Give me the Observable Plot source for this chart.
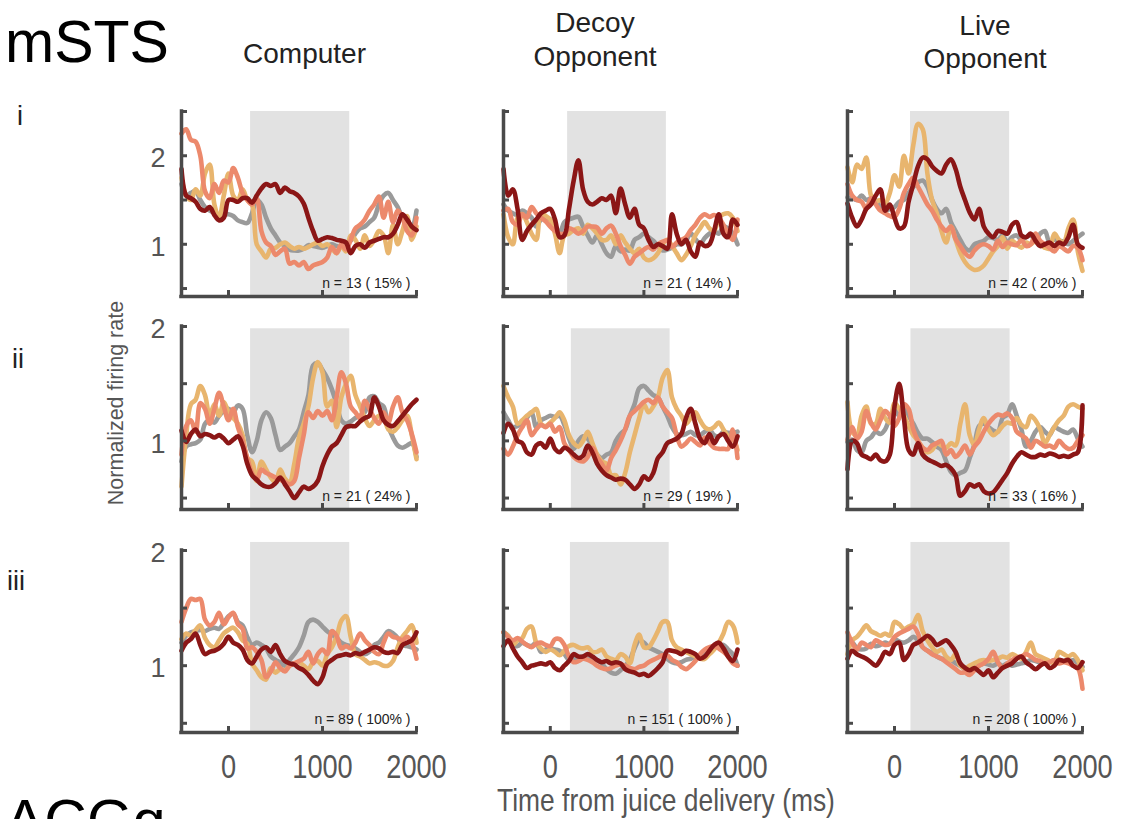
<!DOCTYPE html>
<html>
<head>
<meta charset="utf-8">
<script src="https://cdn.jsdelivr.net/npm/d3@7"></script>
<script src="https://cdn.jsdelivr.net/npm/@observablehq/plot@0.6"></script>
<style>
  body { margin: 0; background: #fff; }
  #fig { position: relative; width: 1123px; height: 819px; overflow: hidden; background: #fff; }
  #fig svg { position: absolute; }
</style>
</head>
<body>
<div id="fig"></div>
<script>
// Time bins (ms from juice delivery)
const times = [-500,-450,-400,-350,-300,-250,-200,-150,-100,-50,
  0,50,100,150,200,250,300,350,400,450,
  500,550,600,650,700,750,800,850,900,950,
  1000,1050,1100,1150,1200,1250,1300,1350,1400,1450,
  1500,1550,1600,1650,1700,1750,1800,1850,1900,1950,
  2000];

// Row i — Computer
const compIGray = [1.68,1.55,1.58,1.60,1.50,1.42,1.38,1.35,1.30,1.33, 1.34,1.32,1.27,1.25,1.24,1.35,1.50,1.45,1.30,1.18, 1.10,1.02,0.98,0.94,0.93,0.93,0.95,0.99,0.98,0.97, 0.96,0.98,1.00,0.98,0.97,1.00,1.04,1.12,1.18,1.20, 1.25,1.30,1.45,1.55,1.58,1.50,1.42,1.30,1.25,1.18, 1.38];
const compITan = [1.75,1.55,1.50,1.62,1.55,1.80,1.90,1.45,1.30,1.55, 1.80,1.55,1.50,1.62,1.50,1.45,1.00,0.92,0.85,0.95, 0.96,1.00,1.02,0.98,0.95,0.97,0.95,0.97,1.00,1.02, 0.98,1.00,0.95,0.90,0.98,0.92,1.10,1.05,0.95,1.10, 0.98,1.05,1.15,1.10,0.90,1.22,1.00,1.15,1.32,1.05, 1.20];
const compISalmon = [2.25,2.30,2.18,2.16,2.00,1.60,1.52,1.68,1.58,1.72, 1.70,1.86,1.75,1.58,1.50,1.45,1.52,1.15,1.02,0.98, 0.88,0.92,0.95,0.78,0.80,0.76,0.80,0.72,0.76,0.78, 0.80,0.85,0.97,0.90,1.00,0.94,1.05,1.18,1.22,1.28, 1.38,1.45,1.54,1.30,1.48,1.25,1.38,1.30,1.15,1.10, 1.30];
const compIRed = [1.85,1.55,1.52,1.48,1.40,1.38,1.42,1.33,1.27,1.30, 1.50,1.50,1.48,1.52,1.52,1.47,1.55,1.63,1.68,1.66, 1.68,1.58,1.64,1.60,1.58,1.54,1.46,1.30,1.15,1.04, 1.06,1.08,1.07,1.05,1.04,1.02,0.90,0.98,1.00,0.96, 1.02,1.04,1.06,1.08,1.08,1.12,1.22,1.34,1.28,1.20, 1.16];

// Row i — Decoy Opponent
const decIGray = [1.45,1.38,1.35,1.33,1.38,1.35,1.30,1.20,1.28,1.30, 1.28,1.22,1.12,1.25,1.28,1.30,1.31,1.20,1.10,1.02, 1.10,1.00,0.90,0.86,0.98,0.92,0.94,0.93,1.05,1.08, 1.12,1.08,1.04,0.98,0.93,0.94,0.96,1.00,1.00,1.04, 1.12,1.06,1.00,1.07,1.12,1.15,1.12,1.20,1.18,1.12, 1.00];
const decITan = [1.34,1.08,1.00,1.30,1.34,1.25,1.12,1.05,1.35,1.32, 1.28,1.12,0.90,1.10,1.12,1.16,1.18,1.12,1.22,1.18, 1.12,1.05,1.05,1.10,1.00,1.10,1.02,0.95,0.90,0.95, 0.85,0.82,0.84,0.90,1.00,1.05,0.98,0.90,0.82,0.88, 0.98,1.10,1.18,1.25,1.18,1.15,1.30,1.34,1.35,1.30, 1.15];
const decISalmon = [1.38,1.40,1.25,1.22,1.34,1.30,1.42,1.35,1.30,1.26, 1.20,1.15,1.12,1.12,1.18,1.16,1.12,1.15,1.20,1.20, 1.19,1.12,1.18,1.21,1.12,0.98,0.88,0.78,0.86,0.90, 0.94,0.97,0.94,1.00,1.03,1.04,0.97,1.02,1.05,1.08, 1.16,1.22,1.30,1.34,1.31,1.33,1.30,1.22,1.12,1.05, 1.28];
const decIRed = [1.85,1.55,1.62,1.40,1.05,1.15,1.22,1.28,1.35,1.38, 1.40,1.28,1.08,1.10,1.40,1.72,1.95,1.62,1.48,1.45, 1.48,1.52,1.50,1.55,1.35,1.63,1.45,1.30,1.40,1.22, 1.18,1.05,0.97,1.00,0.98,0.95,1.34,1.12,1.00,1.05, 0.92,0.86,1.02,0.98,1.00,1.15,1.34,1.12,1.08,1.28, 1.22];

// Row i — Live Opponent
const liveIGray = [1.53,1.52,1.50,1.55,1.50,1.52,1.50,1.42,1.38,1.40, 1.42,1.48,1.50,1.58,1.65,1.70,1.72,1.65,1.50,1.40, 1.35,1.40,1.25,1.15,1.05,0.96,0.93,1.00,1.02,1.04, 1.08,1.07,1.05,1.10,1.02,1.08,1.10,1.05,1.08,1.10, 1.05,1.12,1.15,1.02,1.05,1.04,1.03,1.00,1.04,1.08, 1.12];
const liveITan = [1.87,1.70,1.90,1.85,1.98,1.55,1.48,1.50,1.46,1.58, 1.78,1.65,2.00,1.80,2.12,2.36,2.30,1.80,1.50,1.35, 1.15,1.02,1.20,1.05,0.90,0.80,0.74,0.71,0.72,0.76, 0.84,0.92,0.98,1.08,0.95,1.04,1.00,0.96,1.02,1.00, 1.04,1.00,0.96,0.95,1.12,1.05,1.02,1.18,1.28,0.92, 0.70];
const liveISalmon = [1.68,1.55,1.50,1.48,1.40,1.52,1.45,1.38,1.35,1.32, 1.31,1.40,1.58,1.68,1.75,1.65,1.55,1.45,1.38,1.28, 1.20,1.15,1.20,1.06,0.98,0.90,0.86,0.93,0.98,1.00, 0.98,0.94,1.04,0.97,1.02,1.00,0.99,1.05,0.98,1.00, 1.12,1.04,1.00,0.96,0.92,0.98,0.95,0.92,0.98,0.96, 0.82];
const liveIRed = [1.46,1.30,1.20,1.28,1.40,1.45,1.55,1.62,1.38,1.45, 1.30,1.18,1.20,1.48,1.68,1.88,1.98,1.96,1.88,1.83, 1.80,1.90,1.96,1.85,1.65,1.50,1.36,1.28,1.40,1.20, 1.12,1.08,1.15,1.14,1.12,1.22,1.25,1.10,1.08,1.12, 1.04,0.98,1.00,1.02,0.98,1.02,1.00,1.08,1.22,1.00, 0.96];

// Row ii — Computer
const compIIGray = [0.82,0.95,0.97,0.98,1.01,1.15,1.18,1.16,1.22,1.26, 1.28,1.25,1.31,1.28,1.05,0.90,1.00,1.18,1.25,1.20, 1.05,0.92,0.95,0.98,1.04,1.10,1.25,1.40,1.66,1.68, 1.62,1.55,1.45,1.32,1.18,1.15,1.17,1.20,1.22,1.25, 1.38,1.39,1.33,1.30,1.13,1.03,0.96,0.94,0.96,0.98, 0.86];
const compIITan = [0.60,1.05,1.32,1.36,1.48,1.40,1.22,1.32,1.22,1.34, 1.25,1.20,1.15,1.05,0.85,0.82,0.65,0.82,0.75,0.68, 0.64,0.75,0.67,0.64,0.80,1.03,1.15,1.30,1.55,1.69, 1.60,1.30,1.35,1.12,1.38,1.50,1.57,1.40,1.30,1.20, 1.13,1.18,1.22,1.20,1.10,1.08,1.12,1.18,1.22,1.05, 0.84];
const compIISalmon = [0.88,1.13,1.18,1.08,1.33,1.28,1.15,1.28,1.42,1.30, 1.18,1.28,1.12,1.00,0.85,0.72,0.66,0.75,0.72,0.70, 0.68,0.66,0.64,0.62,0.65,0.85,1.05,1.25,1.20,1.26, 1.22,1.26,1.18,1.38,1.60,1.50,1.30,1.25,1.20,1.35, 1.28,1.20,1.15,1.25,1.16,1.30,1.38,1.25,1.18,1.06, 0.90];
const compIIRed = [1.09,0.99,1.06,1.10,1.04,1.06,1.05,1.03,1.05,1.02, 0.98,1.01,1.04,0.96,0.80,0.70,0.66,0.62,0.60,0.60, 0.63,0.68,0.62,0.56,0.50,0.55,0.60,0.58,0.60,0.65, 0.78,0.88,0.95,0.98,1.05,1.12,1.13,1.13,1.17,1.20, 1.22,1.38,1.30,1.18,1.14,1.13,1.17,1.22,1.27,1.32, 1.36];

// Row ii — Decoy Opponent
const decIIGray = [1.25,1.18,1.12,1.13,1.15,1.20,1.25,1.12,1.18,1.20, 1.22,1.21,1.22,1.14,1.02,0.93,1.00,1.04,1.02,0.94, 0.88,0.85,0.88,0.90,1.00,1.06,1.10,1.22,1.32,1.46, 1.48,1.44,1.40,1.38,1.30,1.22,1.12,1.06,1.05,1.06, 1.08,1.05,1.05,1.08,1.10,1.05,1.04,1.08,1.07,1.07, 1.08];
const decIITan = [1.48,1.38,1.30,1.15,1.18,1.22,1.25,1.28,1.15,1.13, 1.16,1.20,1.25,1.18,1.05,0.98,0.95,1.00,1.08,0.98, 0.88,0.82,0.80,0.70,0.70,0.62,0.72,0.90,1.05,1.20, 1.32,1.25,1.30,1.38,1.55,1.62,1.38,1.28,1.22,1.15, 1.20,1.25,1.18,1.12,1.10,1.12,1.16,1.10,1.04,1.02, 0.92];
const decIISalmon = [0.93,0.88,0.95,1.05,1.12,1.18,1.05,1.10,1.14,1.12, 1.15,1.08,1.12,0.98,0.92,0.86,0.83,0.82,0.86,0.94, 0.86,0.80,0.74,0.85,0.92,1.00,1.10,1.22,1.26,1.30, 1.34,1.36,1.33,1.38,1.30,1.25,1.20,1.05,0.95,0.98, 1.02,0.99,0.96,1.03,0.98,0.94,0.93,0.93,0.93,1.10, 0.85];
const decIIRed = [1.07,1.15,1.10,1.00,0.98,0.90,0.88,0.96,0.98,0.94, 1.02,0.93,0.90,0.94,0.92,0.88,0.85,0.87,0.96,0.90, 0.80,0.74,0.70,0.68,0.66,0.67,0.66,0.62,0.58,0.62, 0.69,0.66,0.72,0.85,0.90,0.98,1.00,1.02,1.06,1.20, 1.28,1.15,1.02,0.98,1.06,0.98,1.04,1.06,1.00,0.95, 1.04];

// Row ii — Live Opponent
const liveIIGray = [0.99,1.01,0.92,0.90,1.00,1.03,1.08,1.06,1.10,1.20, 1.27,1.22,1.30,1.22,1.15,1.07,1.02,1.02,0.99,0.95, 0.92,0.82,0.73,0.70,0.72,0.74,0.85,0.97,1.13,1.15, 1.12,1.09,1.08,1.20,1.23,1.32,1.22,1.10,0.95,1.00, 1.08,1.12,1.08,1.05,1.12,1.10,1.08,1.07,1.10,1.02, 0.95];
const liveIITan = [1.34,1.08,1.05,1.22,1.30,1.15,1.15,1.28,1.20,1.16, 1.33,1.28,1.22,1.13,1.05,1.00,0.94,0.90,0.92,0.98, 0.96,0.94,0.98,0.96,1.15,1.32,1.05,0.96,1.10,1.20, 1.10,1.05,1.08,1.13,1.16,1.15,1.20,1.14,1.12,1.22, 1.18,1.10,0.98,1.05,1.12,1.18,1.22,1.30,1.32,1.30, 1.28];
const liveIISalmon = [1.01,1.12,1.02,1.08,1.26,1.16,1.10,1.18,1.26,1.22, 1.13,1.20,1.32,1.28,1.10,1.00,0.94,0.92,0.96,0.98, 1.00,0.88,0.92,0.86,0.90,0.96,0.88,0.95,1.00,1.08, 1.15,1.20,1.23,1.22,1.24,1.20,1.08,1.05,1.02,0.94, 1.00,0.98,0.95,0.96,0.94,1.00,0.96,0.93,0.94,1.00, 1.05];
const liveIIRed = [0.75,1.00,0.98,0.88,0.86,0.84,0.88,0.83,0.82,0.88, 1.30,1.50,1.20,0.92,0.88,0.98,0.88,0.84,0.82,0.80, 0.78,0.79,0.76,0.70,0.52,0.56,0.62,0.60,0.62,0.56, 0.54,0.55,0.60,0.66,0.72,0.80,0.86,0.90,0.88,0.86, 0.86,0.88,0.87,0.89,0.88,0.86,0.87,0.86,0.88,0.90, 1.31];

// Row iii — Computer
const compIIIGray = [1.20,1.26,1.29,1.30,1.31,1.30,1.32,1.33,1.32,1.37, 1.43,1.45,1.38,1.35,1.25,1.18,1.20,1.18,1.15,1.08, 1.05,1.03,1.00,1.05,1.10,1.16,1.26,1.38,1.40,1.38, 1.34,1.30,1.27,1.24,1.20,1.18,1.17,1.15,1.12,1.10, 1.12,1.18,1.20,1.25,1.30,1.28,1.24,1.18,1.17,1.16, 1.14];
const compIIITan = [1.23,1.28,1.26,1.31,1.35,1.24,1.18,1.16,1.22,1.28, 1.31,1.33,1.29,1.22,1.19,1.02,0.96,0.90,0.88,0.98, 0.94,0.97,0.96,1.00,1.02,1.03,1.00,0.97,1.03,1.04, 1.00,1.10,1.16,1.25,1.39,1.43,1.25,1.10,1.08,1.05, 1.02,1.03,1.02,1.00,1.00,1.04,1.16,1.25,1.30,1.35, 1.20];
const compIIISalmon = [1.38,1.50,1.58,1.57,1.58,1.40,1.35,1.38,1.46,1.36, 1.42,1.46,1.36,1.32,1.15,1.16,1.12,1.05,0.90,0.95, 1.03,0.98,0.95,1.00,1.02,1.04,1.06,1.12,1.02,1.10, 1.14,1.10,1.30,1.26,1.15,1.17,1.15,1.20,1.28,1.22, 1.18,1.12,1.10,1.20,1.28,1.25,1.24,1.22,1.25,1.20, 1.06];
const compIIIRed = [1.13,1.20,1.23,1.28,1.18,1.10,1.12,1.13,1.15,1.19, 1.25,1.20,1.18,1.14,1.05,1.02,1.08,1.14,1.16,1.12, 1.18,1.10,1.04,1.02,1.01,0.98,0.96,0.92,0.87,0.84, 0.90,1.02,1.05,1.08,1.09,1.10,1.09,1.11,1.10,1.12, 1.14,1.16,1.15,1.12,1.11,1.12,1.11,1.18,1.20,1.22, 1.29];

// Row iii — Decoy Opponent
const decIIIGray = [1.29,1.26,1.18,1.17,1.20,1.18,1.17,1.20,1.12,1.14, 1.15,1.14,1.13,1.10,1.05,1.06,1.07,1.08,1.06,1.07, 1.05,1.02,0.97,0.94,0.93,0.96,1.00,1.05,1.15,1.22, 1.20,1.16,1.14,1.12,1.10,1.06,1.03,1.02,1.03,1.05, 1.06,1.08,1.08,1.10,1.12,1.15,1.17,1.18,1.14,1.10, 1.00];
const decIIITan = [1.29,1.26,1.18,1.22,1.24,1.32,1.34,1.20,1.15,1.12, 1.14,1.12,1.09,1.13,1.17,1.18,1.16,1.15,1.16,1.12, 1.12,1.14,1.08,1.06,1.05,1.10,1.08,1.02,1.18,1.27, 1.16,1.16,1.22,1.30,1.38,1.38,1.22,1.16,1.14,1.12, 1.10,1.08,1.06,1.06,1.10,1.14,1.20,1.28,1.38,1.35, 1.20];
const decIIISalmon = [1.29,1.25,1.22,1.24,1.21,1.18,1.16,1.19,1.20,1.18, 1.17,1.23,1.23,1.18,1.08,1.03,1.04,1.06,1.05,1.03, 1.00,0.98,0.97,0.98,1.00,1.01,1.00,0.98,0.97,0.99, 1.00,1.03,1.05,1.07,1.09,1.09,1.05,1.03,0.99,0.97, 1.00,1.04,1.10,1.14,1.16,1.17,1.15,1.12,1.08,1.02, 1.00];
const decIIIRed = [1.17,1.22,1.15,1.08,1.03,0.98,1.00,1.01,1.02,1.01, 1.03,0.98,0.96,1.00,1.04,1.10,1.08,1.08,1.10,1.08, 1.05,1.03,1.04,1.02,1.03,1.02,0.97,0.95,0.94,0.92, 0.93,0.91,0.94,0.98,1.03,1.13,1.13,1.12,1.10,1.13, 1.12,1.10,1.06,1.08,1.13,1.18,1.20,1.15,1.08,1.04, 1.14];

// Row iii — Live Opponent
const liveIIIGray = [1.17,1.20,1.15,1.14,1.15,1.19,1.17,1.18,1.20,1.19, 1.23,1.21,1.20,1.22,1.25,1.22,1.16,1.13,1.11,1.08, 1.06,1.06,1.05,1.02,1.00,0.97,0.95,0.98,1.00,1.02, 1.01,1.00,1.02,1.00,1.02,1.00,1.01,1.02,1.03,1.05, 1.04,1.03,1.02,1.03,1.05,1.04,1.04,1.03,1.05,1.02, 0.99];
const liveIIITan = [1.10,1.22,1.25,1.30,1.35,1.30,1.28,1.26,1.28,1.26, 1.38,1.36,1.32,1.34,1.36,1.44,1.30,1.22,1.16,1.12, 1.14,1.08,1.05,1.10,1.00,0.98,1.00,1.02,1.04,1.05, 1.04,1.05,1.06,1.08,1.07,1.10,1.08,1.06,1.12,1.20, 1.10,1.08,1.06,1.04,1.02,1.12,1.10,1.08,1.10,1.05, 0.96];
const liveIIISalmon = [1.29,1.20,1.14,1.20,1.18,1.16,1.22,1.20,1.18,1.19, 1.25,1.28,1.30,1.32,1.34,1.28,1.16,1.13,1.10,1.08, 1.06,1.03,1.00,0.97,0.94,0.94,0.92,0.96,1.00,1.02, 1.06,1.12,1.03,0.98,1.02,1.05,1.07,1.08,1.10,1.08, 1.05,1.04,1.02,1.03,1.05,1.02,1.03,1.02,1.00,0.98, 0.80];
const liveIIIRed = [1.06,1.13,1.10,1.08,1.06,1.03,1.00,1.05,1.12,1.10, 1.18,1.20,1.05,1.10,1.18,1.20,1.23,1.26,1.23,1.18, 1.20,1.22,1.18,1.12,1.02,0.98,0.96,0.98,0.95,0.92, 0.96,0.90,0.94,0.98,1.00,1.02,1.06,1.08,1.03,1.00, 0.97,1.00,1.02,0.98,1.00,1.05,1.04,1.05,1.00,0.98, 1.03];

// Panel annotations
const columnTitles = [["Computer"], ["Decoy", "Opponent"], ["Live", "Opponent"]];
const rowLabels = ["i", "ii", "iii"];
const cellCounts = [[13, 21, 42], [21, 29, 33], [89, 151, 208]];
const cellPercents = [[15, 14, 20], [24, 19, 16], [100, 100, 100]];

// Reward window shading (ms) and its top (normalized rate), per panel / row
const shadeStart = [[235, 185, 170], [235, 225, 175], [235, 215, 175]];
const shadeEnd = [[1290, 1240, 1225], [1290, 1280, 1230], [1290, 1270, 1230]];
const shadeTop = [2.5, 1.98, 2.07];

// Axes
const yDomains = [[0.41, 2.5], [0.40, 2.0], [0.42, 2.0]];
const yTicks = [[0.5, 1, 1.5, 2, 2.5], [0.5, 1, 1.5, 2], [0.5, 1, 1.5, 2]];
const yTickLabels = [1, 2];
const xTicks = [0, 1000, 2000];
const xDomain = [-500, 2000];

const panelSeries = [
  [[compIGray, compITan, compISalmon, compIRed], [decIGray, decITan, decISalmon, decIRed], [liveIGray, liveITan, liveISalmon, liveIRed]],
  [[compIIGray, compIITan, compIISalmon, compIIRed], [decIIGray, decIITan, decIISalmon, decIIRed], [liveIIGray, liveIITan, liveIISalmon, liveIIRed]],
  [[compIIIGray, compIIITan, compIIISalmon, compIIIRed], [decIIIGray, decIIITan, decIIISalmon, decIIIRed], [liveIIIGray, liveIIITan, liveIIISalmon, liveIIIRed]]
];
const seriesColors = ["#9a9a9a", "#e8b56e", "#ec896c", "#8b1616"];

const axisColor = "#4a4a4a";
const labelColor = "#555555";
const shadeColor = "#e2e2e2";
const sans = "'Liberation Sans', Arial, Helvetica, sans-serif";
const condense = 0.8; // horizontal squeeze for the condensed axis lettering

// Frame geometry of the 3x3 grid (pixels)
const colLeft = [181, 503, 847], colRight = [416, 737, 1082];
const rowTop = [111, 326, 550], rowBottom = [296, 509, 732];
const M = {l: 70, r: 40, t: 14, b: 64};

const fig = document.getElementById("fig");
const xTickText = new Set(xTicks.map(String));

// squeeze a text element horizontally about its anchor
function squeeze(t, s) {
  const tr = t.getAttribute("transform");
  if (tr) {
    t.setAttribute("transform", `${tr} scale(${s},1)`);
  } else {
    const x = +t.getAttribute("x") || 0, y = +t.getAttribute("y") || 0;
    t.setAttribute("x", 0);
    t.setAttribute("y", 0);
    t.setAttribute("transform", `translate(${x},${y}) scale(${s},1)`);
  }
}

for (let r = 0; r < 3; r++) {
  for (let c = 0; c < 3; c++) {
    const fw = colRight[c] - colLeft[c];
    const fh = rowBottom[r] - rowTop[r];
    const [y0] = yDomains[r];
    const marks = [
      Plot.rect([{x1: shadeStart[r][c], x2: shadeEnd[r][c], y1: y0, y2: shadeTop[r]}],
        {x1: "x1", x2: "x2", y1: "y1", y2: "y2", fill: shadeColor}),
      ...panelSeries[r][c].map((vals, k) =>
        Plot.line(vals.map((v, i) => [times[i], v]), {
          stroke: seriesColors[k], strokeWidth: 4.6, curve: "catmull-rom",
          strokeLinejoin: "round", strokeLinecap: "round"
        })),
      Plot.ruleX([xDomain[0]], {stroke: axisColor, strokeWidth: 3.5, strokeLinecap: "square"}),
      Plot.ruleY([y0], {stroke: axisColor, strokeWidth: 3.5, strokeLinecap: "square"}),
      Plot.ruleY(yTicks[r], {stroke: axisColor, strokeWidth: 3, insetRight: fw - 6}),
      Plot.ruleX(xTicks, {stroke: axisColor, strokeWidth: 3, insetTop: fh - 6}),
      Plot.text([`n = ${cellCounts[r][c]} ( ${cellPercents[r][c]}% )`], {
        frameAnchor: "bottom-right", textAnchor: "end", lineAnchor: "middle",
        dx: -6, dy: -13, fontSize: 14, fontFamily: sans, fill: "#222"
      })
    ];
    if (c === 0) {
      marks.push(Plot.text(yTickLabels, {
        x: xDomain[0], y: d => d, text: d => String(d), textAnchor: "end",
        dx: -16, dy: 3, fontSize: 27, fontFamily: sans, fill: labelColor
      }));
    }
    if (r === 2) {
      marks.push(Plot.text(xTicks, {
        x: d => d, y: y0, text: d => String(d), dy: 35,
        fontSize: 34, fontFamily: sans, fill: labelColor
      }));
    }
    const svg = Plot.plot({
      width: fw + M.l + M.r,
      height: fh + M.t + M.b,
      marginLeft: M.l, marginRight: M.r, marginTop: M.t, marginBottom: M.b,
      x: {domain: xDomain, axis: null},
      y: {domain: yDomains[r], axis: null},
      style: {background: "transparent", overflow: "visible"},
      marks
    });
    svg.style.left = (colLeft[c] - M.l) + "px";
    svg.style.top = (rowTop[r] - M.t) + "px";
    fig.appendChild(svg);
    // condensed lettering for the time tick labels
    if (r === 2) {
      svg.querySelectorAll("text").forEach(t => {
        if (xTickText.has(t.textContent.trim())) squeeze(t, condense);
      });
    }
  }
}

// Titles and shared labels
const overlay = d3.create("svg")
  .attr("width", 1123).attr("height", 819)
  .style("left", "0px").style("top", "0px")
  .style("pointer-events", "none");

const addText = (txt, x, y, opts = {}) => overlay.append("text")
  .attr("x", x).attr("y", y)
  .attr("text-anchor", opts.anchor || "middle")
  .attr("font-family", opts.family || sans)
  .attr("font-size", opts.size || 28)
  .attr("fill", opts.fill || "#222")
  .attr("transform", opts.transform || null)
  .text(txt);

addText("mSTS", 5, 62, {anchor: "start", size: 59, fill: "#000"});
addText("ACGg", 5, 841, {anchor: "start", size: 59, fill: "#000"});

const titleX = [304.5, 595, 985];
const titleBase = [[63], [32, 66], [35, 68]];
columnTitles.forEach((lines, c) => lines.forEach((t, j) => addText(t, titleX[c], titleBase[c][j], {size: 28})));

const rowLabelX = [20, 18, 16];
const rowLabelY = [125, 368, 590];
rowLabels.forEach((t, r) => addText(t, rowLabelX[r], rowLabelY[r], {size: 27}));

addText("Normalized firing rate", 0, 0, {size: 21.5, fill: labelColor, transform: "translate(123,403) rotate(-90)"});
const xLabel = addText("Time from juice delivery (ms)", 666, 811, {size: 31, fill: labelColor});

fig.appendChild(overlay.node());
// fit the condensed x-axis title to its width
{
  const t = xLabel.node();
  squeeze(t, 338 / t.getComputedTextLength());
}
</script>
</body>
</html>
